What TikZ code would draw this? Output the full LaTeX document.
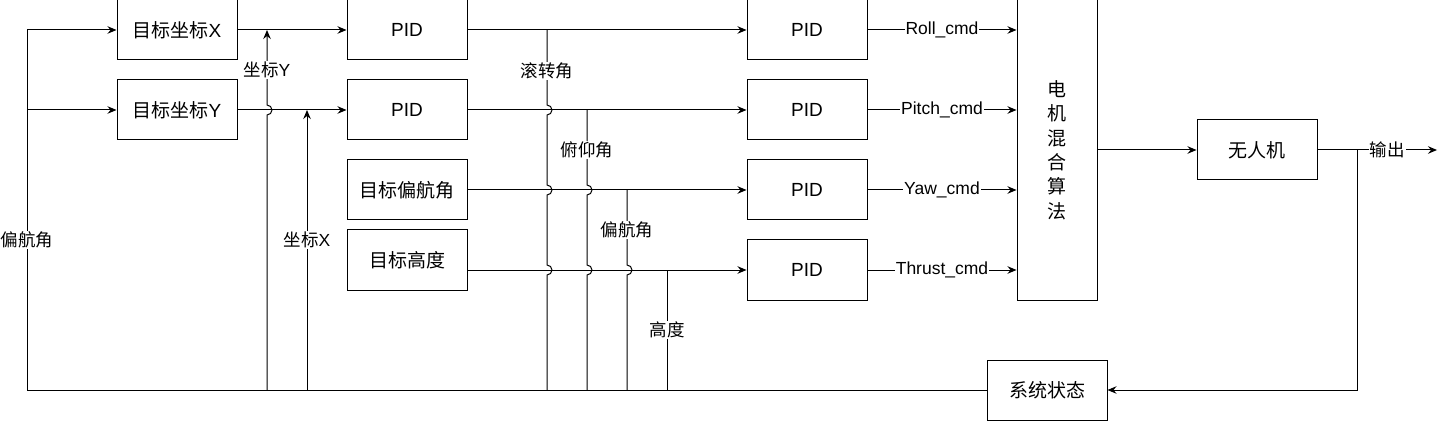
\documentclass[tikz,border=0pt]{standalone}
\usepackage{fontspec}
\setmainfont{Liberation Sans}
\newfontfamily\cjk{Noto Sans CJK SC}
\usetikzlibrary{arrows.meta}

\begin{document}
\begin{tikzpicture}[x=1pt,y=-1pt,line width=1pt,>={Stealth[length=9,width=7.5,inset=3]}]
    \tikzstyle{block}=[draw,rectangle,minimum width=120,minimum height=60,inner sep=0,font=\fontsize{19}{23}\selectfont]
    \tikzstyle{tag}=[fill=white,inner sep=1,font=\fontsize{17.5}{20}\selectfont]
    \useasboundingbox (0,0) rectangle (1446,422);

    % boxes
    \node[block] (tx) at (177,30) {{\cjk 目标坐标}X};
    \node[block] (ty) at (177,110) {{\cjk 目标坐标}Y};
    \node[block] (p1) at (407,30) {PID};
    \node[block] (p2) at (407,110) {PID};
    \node[block] (tyaw) at (407,190) {\cjk 目标偏航角};
    \node[block] (talt) at (407,260) {\cjk 目标高度};
    \node[block] (r1) at (807,30) {PID};
    \node[block] (r2) at (807,110) {PID};
    \node[block] (r3) at (807,190) {PID};
    \node[block] (r4) at (807,270) {PID};
    \node[block,minimum width=80,minimum height=300,align=center,font=\fontsize{19}{24.4}\selectfont\cjk] (mix) at (1057,150) {电\\机\\混\\合\\算\\法};
    \node[block] (uav) at (1257,150) {\cjk 无人机};
    \node[block] (sys) at (1047,390) {\cjk 系统状态};

    \coordinate (inb) at (27,390);
    \coordinate (inx) at (27,30);
    \coordinate (iny) at (27,110);
    \coordinate (out) at (1437,150);
    \coordinate (fb) at (1357,150);
    \coordinate (fbb) at (1357,390);

    % forward path
    \draw[->] (sys.west) -- (inb) -- (inx) -- (tx.west);
    \draw[->] (iny) -- (ty.west);
    \draw[->] (tx.east) -- (p1.west);
    \draw[->] (ty.east) -- (p2.west);
    \draw[->] (p1.east) -- (r1.west);
    \draw[->] (p2.east) -- (r2.west);
    \draw[->] (tyaw.east) -- (r3.west);
    \draw[->] (talt.east |- r4) -- (r4.west);
    \draw[->] (r1.east) -- node[tag] {Roll\_cmd} (mix.west |- r1);
    \draw[->] (r2.east) -- node[tag] {Pitch\_cmd} (mix.west |- r2);
    \draw[->] (r3.east) -- node[tag] {Yaw\_cmd} (mix.west |- r3);
    \draw[->] (r4.east) -- node[tag] {Thrust\_cmd} (mix.west |- r4);
    \draw[->] (mix.east) -- (uav.west);
    \draw[->] (uav.east) -- node[tag,pos=0.583] {\cjk 输出} (out);
    \draw[->] (fb) -- (fbb) -- (sys.east);

    % feedback taps
    \draw[->] (267,390) -- (267,115) arc[start angle=90,end angle=-90,radius=5] -- (267,30);
    \draw[->] (307,390) -- (307,110);
    \draw (547,390) -- (547,275) arc[start angle=90,end angle=-90,radius=5]
        -- (547,195) arc[start angle=90,end angle=-90,radius=5]
        -- (547,115) arc[start angle=90,end angle=-90,radius=5] -- (547,30);
    \draw (587,390) -- (587,275) arc[start angle=90,end angle=-90,radius=5]
        -- (587,195) arc[start angle=90,end angle=-90,radius=5] -- (587,110);
    \draw (627,390) -- (627,275) arc[start angle=90,end angle=-90,radius=5] -- (627,190);
    \draw (667,390) -- (667,270);

    \node[tag] (lyaw) at (27,240) {\cjk 偏航角};
    \node[tag] (ly) at (267,70) {{\cjk 坐标}Y};
    \node[tag] (lx) at (307,240) {{\cjk 坐标}X};
    \node[tag] (lroll) at (547,71) {\cjk 滚转角};
    \node[tag] (lpitch) at (587,150) {\cjk 俯仰角};
    \node[tag] (lyaw2) at (627,230) {\cjk 偏航角};
    \node[tag] (lalt) at (667,330) {\cjk 高度};
\end{tikzpicture}
\end{document}
